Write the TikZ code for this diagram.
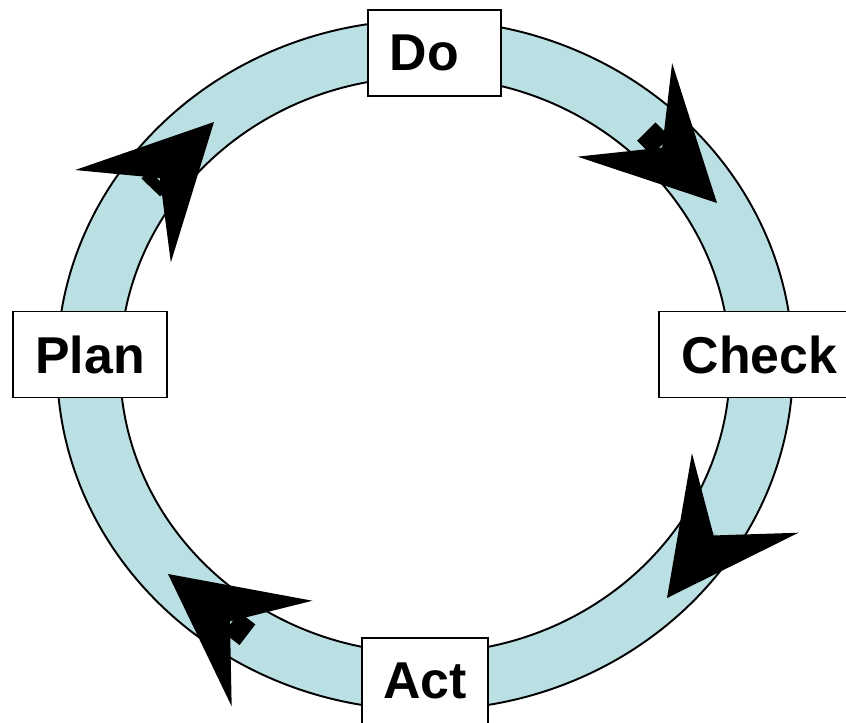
\documentclass[tikz,border=0pt]{standalone}
\usepackage{fontspec}
\setmainfont{Liberation Sans}
\definecolor{ringblue}{RGB}{187,224,227}
\tikzset{stagebox/.style={draw, fill=white, line width=1pt, inner sep=0pt,
    minimum height=1.72cm, font=\fontsize{29.5}{35}\selectfont\bfseries}}
\begin{document}
\begin{tikzpicture}[x=0.02cm, y=-0.02cm]
  \useasboundingbox (0,0) rectangle (846,723);
  % ring
  \path[fill=ringblue, draw, line width=1.1pt, even odd rule]
    (425,365) ellipse [x radius=368, y radius=345]
    (425,365) ellipse [x radius=305, y radius=288];
  % arrow heads: tip x/tip y/angle/stem end
  \foreach \tx/\ty/\ang/\stem in {717/203/-45.3/100.5, 168/574/142.6/100,
      214/122/46/91, 667/598/233.3/80}{
    \fill[shift={(\tx,\ty)}, rotate=\ang] (0,0) -- (-131,66.5) -- (-78,0) -- (-131,-66.5) -- cycle;
    \fill[shift={(\tx,\ty)}, rotate=\ang] (-80,-13) rectangle (-\stem,13);
  }
  \path (434.5,53) node[stagebox, minimum width=2.66cm] (do) {Do\kern0.4cm};
  \path (759.5,354.5) node[stagebox, minimum width=4.02cm] (check) {Check};
  \path (425,681) node[stagebox, minimum width=2.52cm] (act) {Act};
  \path (90,354.5) node[stagebox, minimum width=3.08cm] (plan) {Plan};
\end{tikzpicture}
\end{document}
